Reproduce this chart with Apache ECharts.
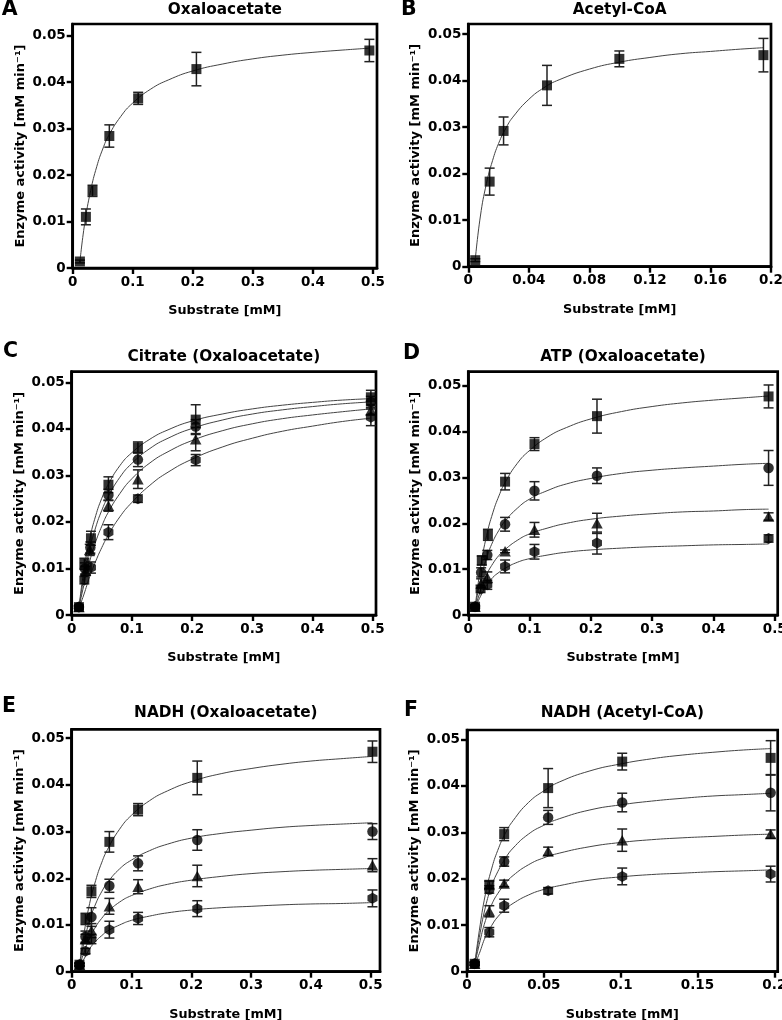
<!DOCTYPE html>
<html><head><meta charset="utf-8">
<script src="https://cdn.jsdelivr.net/npm/echarts@6/dist/echarts.min.js"></script>
<style>html,body{margin:0;padding:0;background:#fff}#c{width:782px;height:1020px}</style>
</head><body><div id="c"></div>
<script>
// ---------- tick labels ----------
const yTicks = [0, 0.01, 0.02, 0.03, 0.04, 0.05];
const xTicksOxa = [0, 0.1, 0.2, 0.3, 0.4, 0.5];
const xTicksB = [0, 0.04, 0.08, 0.12, 0.16, 0.2];
const xTicksF = [0, 0.05, 0.1, 0.15, 0.2];

// ---------- Panel A: Oxaloacetate ----------
const A_x = [0.012, 0.022, 0.033, 0.061, 0.109, 0.206, 0.494];
const A_y = [0.0014, 0.0110, 0.0166, 0.0284, 0.0365, 0.0428, 0.0468];
const A_err = [0.0003, 0.0017, 0.0012, 0.0024, 0.0013, 0.0036, 0.0024];
const A_curveX = [0.012, 0.02, 0.03, 0.04, 0.05, 0.06, 0.08, 0.1, 0.13, 0.16, 0.2, 0.25, 0.3, 0.35, 0.4, 0.45, 0.494];
const A_curveY = [0.0013, 0.0096, 0.0167, 0.0218, 0.0256, 0.0285, 0.0326, 0.0355, 0.0385, 0.0405, 0.0424, 0.0439, 0.0450, 0.0458, 0.0464, 0.0469, 0.0473];

// ---------- Panel B: Acetyl-CoA ----------
const B_x = [0.0046, 0.0141, 0.0233, 0.052, 0.0998, 0.195];
const B_y = [0.0014, 0.0183, 0.0292, 0.0390, 0.0447, 0.0455];
const B_err = [0.0003, 0.0029, 0.0030, 0.0043, 0.0017, 0.0036];
const B_curveX = [0.0046, 0.008, 0.012, 0.016, 0.02, 0.025, 0.03, 0.04, 0.05, 0.06, 0.08, 0.1, 0.12, 0.14, 0.16, 0.18, 0.195];
const B_curveY = [0.0015, 0.0109, 0.0179, 0.0228, 0.0265, 0.0299, 0.0324, 0.0360, 0.0385, 0.0402, 0.0425, 0.0440, 0.0450, 0.0458, 0.0463, 0.0468, 0.0471];

// ---------- Panel C: Citrate (Oxaloacetate) ----------
const C_sq_x = [0.012, 0.021, 0.032, 0.061, 0.110, 0.206, 0.497];
const C_sq_y = [0.0017, 0.0110, 0.0165, 0.0280, 0.0360, 0.0420, 0.0468];
const C_sq_err = [0.0003, 0.0012, 0.0015, 0.0017, 0.0012, 0.0032, 0.0015];
const C_ci_x = [0.012, 0.022, 0.031, 0.061, 0.110, 0.206, 0.497];
const C_ci_y = [0.0017, 0.0100, 0.0145, 0.0258, 0.0334, 0.0405, 0.0458];
const C_ci_err = [0.0003, 0.0012, 0.0012, 0.0012, 0.0015, 0.0015, 0.0012];
const C_tr_x = [0.012, 0.023, 0.030, 0.061, 0.110, 0.206, 0.497];
const C_tr_y = [0.0017, 0.0095, 0.0140, 0.0235, 0.0292, 0.0378, 0.0440];
const C_tr_err = [0.0003, 0.0010, 0.0012, 0.0012, 0.0020, 0.0025, 0.0010];
const C_he_x = [0.012, 0.021, 0.032, 0.061, 0.110, 0.206, 0.497];
const C_he_y = [0.0017, 0.0075, 0.0102, 0.0178, 0.0250, 0.0333, 0.0425];
const C_he_err = [0.0003, 0.0008, 0.0012, 0.0016, 0.0008, 0.0012, 0.0018];
const C_curveX = [0.012, 0.02, 0.03, 0.04, 0.05, 0.06, 0.08, 0.1, 0.13, 0.16, 0.2, 0.25, 0.3, 0.35, 0.4, 0.45, 0.497];
const C_sq_curve = [0.0015, 0.0094, 0.0164, 0.0214, 0.0251, 0.0279, 0.0321, 0.0349, 0.0378, 0.0398, 0.0417, 0.0432, 0.0443, 0.0451, 0.0457, 0.0462, 0.0465];
const C_ci_curve = [0.0015, 0.0079, 0.0142, 0.0189, 0.0225, 0.0253, 0.0296, 0.0326, 0.0358, 0.0380, 0.0401, 0.0419, 0.0432, 0.0441, 0.0448, 0.0454, 0.0458];
const C_tr_curve = [0.0015, 0.0063, 0.0116, 0.0158, 0.0191, 0.0219, 0.0261, 0.0293, 0.0327, 0.0351, 0.0375, 0.0396, 0.0411, 0.0422, 0.0430, 0.0437, 0.0443];
const C_he_curve = [0.0015, 0.0043, 0.0083, 0.0116, 0.0145, 0.0170, 0.0211, 0.0242, 0.0279, 0.0307, 0.0335, 0.0361, 0.0380, 0.0395, 0.0406, 0.0416, 0.0423];

// ---------- Panel D: ATP (Oxaloacetate) ----------
const D_sq_x = [0.011, 0.022, 0.032, 0.060, 0.108, 0.210, 0.490];
const D_sq_y = [0.0018, 0.0119, 0.0175, 0.0291, 0.0373, 0.0434, 0.0477];
const D_sq_err = [0.0003, 0.0010, 0.0012, 0.0018, 0.0014, 0.0037, 0.0025];
const D_ci_x = [0.011, 0.021, 0.031, 0.060, 0.108, 0.210, 0.490];
const D_ci_y = [0.0018, 0.0093, 0.0131, 0.0198, 0.0271, 0.0304, 0.0321];
const D_ci_err = [0.0003, 0.0010, 0.0010, 0.0015, 0.0020, 0.0017, 0.0038];
const D_tr_x = [0.011, 0.021, 0.031, 0.060, 0.108, 0.210, 0.490];
const D_tr_y = [0.0018, 0.0069, 0.0082, 0.0139, 0.0186, 0.0200, 0.0215];
const D_tr_err = [0.0003, 0.0010, 0.0012, 0.0003, 0.0016, 0.0022, 0.0008];
const D_he_x = [0.011, 0.020, 0.031, 0.060, 0.108, 0.210, 0.490];
const D_he_y = [0.0018, 0.0057, 0.0066, 0.0106, 0.0138, 0.0157, 0.0167];
const D_he_err = [0.0003, 0.0008, 0.0010, 0.0014, 0.0016, 0.0024, 0.0008];
const D_curveX = [0.011, 0.02, 0.03, 0.04, 0.05, 0.06, 0.08, 0.1, 0.13, 0.16, 0.2, 0.25, 0.3, 0.35, 0.4, 0.45, 0.49];
const D_sq_curve = [0.0015, 0.0104, 0.0174, 0.0223, 0.0260, 0.0289, 0.0331, 0.0359, 0.0389, 0.0409, 0.0428, 0.0444, 0.0455, 0.0463, 0.0469, 0.0474, 0.0478];
const D_ci_curve = [0.0015, 0.0076, 0.0125, 0.0160, 0.0185, 0.0205, 0.0233, 0.0253, 0.0272, 0.0286, 0.0298, 0.0309, 0.0316, 0.0321, 0.0325, 0.0329, 0.0331];
const D_tr_curve = [0.0015, 0.0053, 0.0088, 0.0112, 0.0130, 0.0143, 0.0163, 0.0177, 0.0190, 0.0200, 0.0209, 0.0216, 0.0221, 0.0225, 0.0227, 0.0230, 0.0231];
const D_he_curve = [0.0015, 0.0041, 0.0065, 0.0082, 0.0093, 0.0102, 0.0115, 0.0123, 0.0131, 0.0137, 0.0142, 0.0146, 0.0149, 0.0151, 0.0153, 0.0154, 0.0155];

// ---------- Panel E: NADH (Oxaloacetate) ----------
const E_x = [0.013, 0.023, 0.033, 0.063, 0.111, 0.210, 0.503];
const E_sq_y = [0.0015, 0.0113, 0.0172, 0.0278, 0.0347, 0.0415, 0.0471];
const E_sq_err = [0.0003, 0.0012, 0.0013, 0.0022, 0.0013, 0.0036, 0.0023];
const E_ci_y = [0.0015, 0.0075, 0.0117, 0.0184, 0.0232, 0.0282, 0.0300];
const E_ci_err = [0.0003, 0.0012, 0.0020, 0.0014, 0.0016, 0.0022, 0.0017];
const E_tr_y = [0.0015, 0.0070, 0.0088, 0.0140, 0.0182, 0.0205, 0.0228];
const E_tr_err = [0.0003, 0.0010, 0.0015, 0.0017, 0.0015, 0.0023, 0.0014];
const E_he_y = [0.0015, 0.0044, 0.0070, 0.0090, 0.0114, 0.0135, 0.0157];
const E_he_err = [0.0003, 0.0006, 0.0010, 0.0018, 0.0013, 0.0017, 0.0018];
const E_curveX = [0.013, 0.02, 0.03, 0.04, 0.05, 0.06, 0.08, 0.1, 0.13, 0.16, 0.2, 0.25, 0.3, 0.35, 0.4, 0.45, 0.503];
const E_sq_curve = [0.0013, 0.0077, 0.0146, 0.0195, 0.0233, 0.0262, 0.0305, 0.0335, 0.0366, 0.0387, 0.0407, 0.0424, 0.0435, 0.0444, 0.0451, 0.0456, 0.0461];
const E_ci_curve = [0.0013, 0.0059, 0.0110, 0.0145, 0.0171, 0.0191, 0.0220, 0.0239, 0.0259, 0.0273, 0.0286, 0.0296, 0.0303, 0.0309, 0.0313, 0.0316, 0.0319];
const E_tr_curve = [0.0013, 0.0039, 0.0072, 0.0096, 0.0114, 0.0128, 0.0149, 0.0163, 0.0177, 0.0187, 0.0196, 0.0204, 0.0210, 0.0214, 0.0217, 0.0219, 0.0221];
const E_he_curve = [0.0013, 0.0026, 0.0049, 0.0065, 0.0077, 0.0087, 0.0100, 0.0110, 0.0119, 0.0126, 0.0132, 0.0137, 0.0140, 0.0143, 0.0145, 0.0146, 0.0148];

// ---------- Panel F: NADH (Acetyl-CoA) ----------
const F_x = [0.005, 0.0145, 0.0242, 0.0528, 0.101, 0.1976];
const F_sq_y = [0.0017, 0.0187, 0.0296, 0.0395, 0.0452, 0.0460];
const F_sq_err = [0.0003, 0.0008, 0.0014, 0.0042, 0.0018, 0.0037];
const F_ci_y = [0.0017, 0.0177, 0.0237, 0.0332, 0.0364, 0.0385];
const F_ci_err = [0.0003, 0.0008, 0.0010, 0.0015, 0.0020, 0.0039];
const F_tr_y = [0.0017, 0.0130, 0.0190, 0.0259, 0.0283, 0.0296];
const F_tr_err = [0.0003, 0.0012, 0.0007, 0.0009, 0.0024, 0.0009];
const F_he_y = [0.0017, 0.0085, 0.0142, 0.0174, 0.0205, 0.0210];
const F_he_err = [0.0003, 0.0010, 0.0014, 0.0007, 0.0018, 0.0017];
const F_curveX = [0.005, 0.008, 0.012, 0.016, 0.02, 0.025, 0.03, 0.04, 0.05, 0.06, 0.08, 0.1, 0.12, 0.14, 0.16, 0.18, 0.198];
const F_sq_curve = [0.0015, 0.0088, 0.0167, 0.0221, 0.0261, 0.0298, 0.0325, 0.0364, 0.0389, 0.0408, 0.0432, 0.0447, 0.0458, 0.0466, 0.0472, 0.0477, 0.0480];
const F_ci_curve = [0.0015, 0.0074, 0.0139, 0.0184, 0.0215, 0.0244, 0.0266, 0.0296, 0.0315, 0.0329, 0.0348, 0.0359, 0.0367, 0.0373, 0.0378, 0.0381, 0.0384];
const F_tr_curve = [0.0015, 0.0059, 0.0110, 0.0144, 0.0168, 0.0190, 0.0207, 0.0230, 0.0245, 0.0255, 0.0269, 0.0278, 0.0284, 0.0288, 0.0291, 0.0294, 0.0296];
const F_he_curve = [0.0015, 0.0039, 0.0075, 0.0099, 0.0118, 0.0134, 0.0147, 0.0165, 0.0177, 0.0185, 0.0197, 0.0204, 0.0209, 0.0212, 0.0215, 0.0217, 0.0219];

// ---------- styling / layout ----------
const FONT = 'DejaVu Sans';
const SYM = {
  square: {symbol: 'rect', size: 10},
  circle: {symbol: 'circle', size: 10.5},
  triangle: {symbol: 'triangle', size: [11.5, 10.5]},
  hexagon: {symbol: 'path://M0,-10 L8.66,-5 L8.66,5 L0,10 L-8.66,5 L-8.66,-5 Z', size: [10, 11]}
};

const panels = [
  {letter: 'A', title: 'Oxaloacetate', left: 72.7, top: 24, width: 304.3, height: 244, xMax: 0.5067, yMax: 0.0525,
   xTicks: xTicksOxa, lx: 1.7, ly: 9.2, ty: 10,
   sets: [{x: A_x, y: A_y, err: A_err, sym: 'square', cx: A_curveX, cy: A_curveY}]},
  {letter: 'B', title: 'Acetyl-CoA', left: 468.3, top: 24, width: 302.7, height: 242.7, xMax: 0.2, yMax: 0.0522,
   xTicks: xTicksB, lx: 401, ly: 9.2, ty: 10,
   sets: [{x: B_x, y: B_y, err: B_err, sym: 'square', cx: B_curveX, cy: B_curveY}]},
  {letter: 'C', title: 'Citrate (Oxaloacetate)', left: 71.7, top: 371.7, width: 304.3, height: 243.3, xMax: 0.5055, yMax: 0.0523,
   xTicks: xTicksOxa, lx: 3, ly: 351, ty: 357.3,
   sets: [
     {x: C_he_x, y: C_he_y, err: C_he_err, sym: 'hexagon', cx: C_curveX, cy: C_he_curve},
     {x: C_tr_x, y: C_tr_y, err: C_tr_err, sym: 'triangle', cx: C_curveX, cy: C_tr_curve},
     {x: C_ci_x, y: C_ci_y, err: C_ci_err, sym: 'circle', cx: C_curveX, cy: C_ci_curve},
     {x: C_sq_x, y: C_sq_y, err: C_sq_err, sym: 'square', cx: C_curveX, cy: C_sq_curve}]},
  {letter: 'D', title: 'ATP (Oxaloacetate)', left: 468.3, top: 371.7, width: 309.4, height: 243.3, xMax: 0.5049, yMax: 0.0531,
   xTicks: xTicksOxa, lx: 403, ly: 353, ty: 356.7,
   sets: [
     {x: D_he_x, y: D_he_y, err: D_he_err, sym: 'hexagon', cx: D_curveX, cy: D_he_curve},
     {x: D_tr_x, y: D_tr_y, err: D_tr_err, sym: 'triangle', cx: D_curveX, cy: D_tr_curve},
     {x: D_ci_x, y: D_ci_y, err: D_ci_err, sym: 'circle', cx: D_curveX, cy: D_ci_curve},
     {x: D_sq_x, y: D_sq_y, err: D_sq_err, sym: 'square', cx: D_curveX, cy: D_sq_curve}]},
  {letter: 'E', title: 'NADH (Oxaloacetate)', left: 71.7, top: 729.3, width: 308.3, height: 242.4, xMax: 0.5156, yMax: 0.0519,
   xTicks: xTicksOxa, lx: 2, ly: 706.5, ty: 713.3,
   sets: [
     {x: E_x, y: E_he_y, err: E_he_err, sym: 'hexagon', cx: E_curveX, cy: E_he_curve},
     {x: E_x, y: E_tr_y, err: E_tr_err, sym: 'triangle', cx: E_curveX, cy: E_tr_curve},
     {x: E_x, y: E_ci_y, err: E_ci_err, sym: 'circle', cx: E_curveX, cy: E_ci_curve},
     {x: E_x, y: E_sq_y, err: E_sq_err, sym: 'square', cx: E_curveX, cy: E_sq_curve}]},
  {letter: 'F', title: 'NADH (Acetyl-CoA)', left: 467, top: 730, width: 310.7, height: 241.7, xMax: 0.2022, yMax: 0.052,
   xTicks: xTicksF, lx: 404, ly: 710, ty: 713.3,
   sets: [
     {x: F_x, y: F_he_y, err: F_he_err, sym: 'hexagon', cx: F_curveX, cy: F_he_curve},
     {x: F_x, y: F_tr_y, err: F_tr_err, sym: 'triangle', cx: F_curveX, cy: F_tr_curve},
     {x: F_x, y: F_ci_y, err: F_ci_err, sym: 'circle', cx: F_curveX, cy: F_ci_curve},
     {x: F_x, y: F_sq_y, err: F_sq_err, sym: 'square', cx: F_curveX, cy: F_sq_curve}]}
];

function errRender(params, api) {
  const x = api.value(0), lo = api.value(1), hi = api.value(2);
  const pH = api.coord([x, hi]), pL = api.coord([x, lo]);
  const w = 5, st = {stroke: '#222', lineWidth: 1.5};
  return {type: 'group', children: [
    {type: 'line', shape: {x1: pH[0], y1: pH[1], x2: pL[0], y2: pL[1]}, style: st},
    {type: 'line', shape: {x1: pH[0] - w, y1: pH[1], x2: pH[0] + w, y2: pH[1]}, style: st},
    {type: 'line', shape: {x1: pL[0] - w, y1: pL[1], x2: pL[0] + w, y2: pL[1]}, style: st}
  ]};
}

const grids = [], xAxes = [], yAxes = [], series = [], graphics = [];
const labelStyle = {color: '#000', fontFamily: FONT, fontWeight: 'bold', fontSize: 13.5};
const nameStyle = {color: '#000', fontFamily: FONT, fontWeight: 'bold', fontSize: 12.8};

panels.forEach((p, i) => {
  grids.push({left: p.left, top: p.top, width: p.width, height: p.height, show: true,
    borderColor: '#000', borderWidth: 2.7, backgroundColor: 'transparent', containLabel: false, outerBoundsMode: 'none'});
  xAxes.push({gridIndex: i, type: 'value', min: 0, max: p.xMax,
    axisLine: {show: true, onZero: false, lineStyle: {color: '#000', width: 2.7}},
    axisTick: {show: true, inside: false, length: 6, lineStyle: {color: '#000', width: 2.4}, customValues: p.xTicks},
    axisLabel: Object.assign({customValues: p.xTicks, margin: 7, formatter: v => String(v)}, labelStyle),
    splitLine: {show: false},
    name: 'Substrate [mM]', nameLocation: 'middle', nameGap: 36, nameTextStyle: nameStyle});
  yAxes.push({gridIndex: i, type: 'value', min: 0, max: p.yMax,
    axisLine: {show: true, onZero: false, lineStyle: {color: '#000', width: 2.7}},
    axisTick: {show: true, inside: false, length: 6, lineStyle: {color: '#000', width: 2.4}, customValues: yTicks},
    axisLabel: Object.assign({customValues: yTicks, margin: 7, formatter: v => String(v)}, labelStyle),
    splitLine: {show: false},
    name: 'Enzyme activity [mM min\u207B\u00B9]', nameLocation: 'middle', nameGap: 46, nameTextStyle: Object.assign({}, nameStyle, {fontSize: 13})});
  p.sets.forEach(s => {
    series.push({type: 'line', xAxisIndex: i, yAxisIndex: i, data: s.cx.map((x, k) => [x, s.cy[k]]),
      showSymbol: false, smooth: 0.5, lineStyle: {color: '#444', width: 1}, silent: true, z: 2});
  });
  p.sets.forEach(s => {
    series.push({type: 'custom', xAxisIndex: i, yAxisIndex: i, renderItem: errRender,
      encode: {x: 0, y: [1, 2]}, data: s.x.map((x, k) => [x, s.y[k] - s.err[k], s.y[k] + s.err[k]]), silent: true, z: 3});
  });
  p.sets.forEach(s => {
    series.push({type: 'scatter', xAxisIndex: i, yAxisIndex: i, data: s.x.map((x, k) => [x, s.y[k]]),
      symbol: SYM[s.sym].symbol, symbolSize: SYM[s.sym].size, itemStyle: {color: '#000'}, silent: true, z: 4});
  });
  graphics.push({type: 'text', left: p.lx, top: p.ly - 10, style: {text: p.letter, fill: '#000', font: 'bold 20.5px "DejaVu Sans"'}});
  graphics.push({type: 'text', x: p.left + p.width / 2, y: p.ty,
    style: {text: p.title, fill: '#000', font: 'bold 15.3px "DejaVu Sans"', textAlign: 'center', textVerticalAlign: 'middle'}});
});

const chart = echarts.init(document.getElementById('c'), null, {renderer: 'canvas'});
chart.setOption({animation: false, backgroundColor: '#fff', grid: grids, xAxis: xAxes, yAxis: yAxes, series: series, graphic: graphics});
</script></body></html>
